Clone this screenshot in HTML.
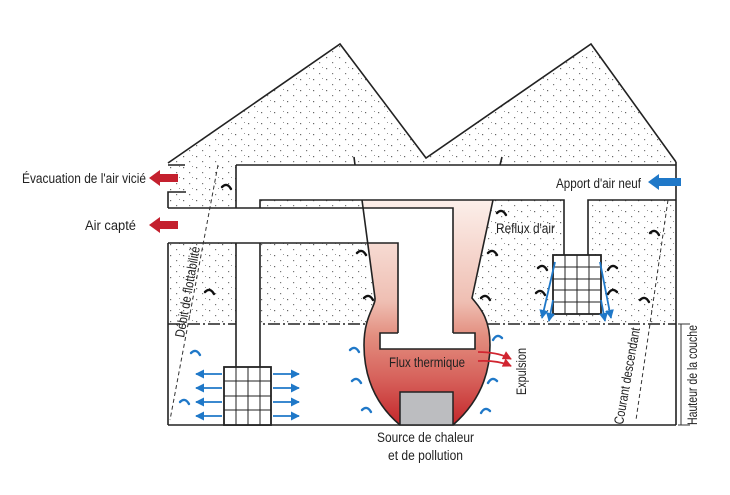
<!DOCTYPE html>
<html><head><meta charset="utf-8"><style>
html,body{margin:0;padding:0;background:#fff;}
svg{display:block;font-family:"Liberation Sans",sans-serif;}
</style></head><body>
<svg width="730" height="495" viewBox="0 0 730 495" xmlns="http://www.w3.org/2000/svg">
<defs>
<pattern id="dots" width="13" height="11" patternUnits="userSpaceOnUse">
<rect x="1" y="2" width="1.2" height="1.2" fill="#666"/>
<rect x="7" y="7" width="1.2" height="1.2" fill="#777"/>
<rect x="10" y="1" width="1" height="1" fill="#999"/>
</pattern>
<linearGradient id="heat" x1="0" y1="200" x2="0" y2="425" gradientUnits="userSpaceOnUse">
<stop offset="0" stop-color="#fcefea"/>
<stop offset="0.45" stop-color="#efbfb3"/>
<stop offset="0.6" stop-color="#e38f80"/>
<stop offset="0.8" stop-color="#d6605a"/>
<stop offset="1" stop-color="#c4262a"/>
</linearGradient>
<marker id="bh" viewBox="0 0 10 10" refX="9" refY="5" markerWidth="5" markerHeight="5" orient="auto"><path d="M0,0 L10,5 L0,10 z" fill="#1f78c8"/></marker>
<marker id="rh" viewBox="0 0 10 10" refX="9" refY="5" markerWidth="5" markerHeight="5" orient="auto"><path d="M0,0 L10,5 L0,10 z" fill="#d12530"/></marker>
</defs>

<polygon points="168,163 340,44 426,158 591,44 676,162 676,324 168,324" fill="url(#dots)"/>
<line x1="168" y1="324" x2="676" y2="324" stroke="#222" stroke-width="1.5" stroke-dasharray="12,3,2,3"/>

<path d="M362,200 L493,200 L472,298 C478,306 490,316 490,345 C490,385 470,410 453,425 L400,425 C382,410 364,385 364,345 C364,316 376,306 375,298 Z" fill="url(#heat)"/>

<rect x="236" y="165" width="440" height="35" fill="#fff"/>
<rect x="236" y="165" width="24" height="202" fill="#fff"/>
<rect x="564" y="199" width="24" height="56" fill="#fff"/>
<rect x="168" y="208" width="285" height="35" fill="#fff"/>
<rect x="398" y="208" width="55" height="125" fill="#fff"/>
<rect x="380" y="333" width="95" height="16" fill="#fff"/>

<g fill="none" stroke="#222" stroke-width="1.6">
<polyline points="168,163 340,44 426,158 591,44 676,162"/>
<line x1="168" y1="165" x2="185" y2="165"/>
<line x1="236" y1="165" x2="676" y2="165"/>
<line x1="354" y1="157" x2="355" y2="165"/>
<line x1="502" y1="157" x2="500" y2="165"/>
<polyline points="186,192 168,192 168,208"/>
<line x1="168" y1="243" x2="168" y2="425"/>
<line x1="236" y1="165" x2="236" y2="208"/>
<line x1="236" y1="243" x2="236" y2="367"/>
<line x1="260" y1="243" x2="260" y2="367"/>
<polyline points="260,208 260,200 564,200 564,255"/>
<polyline points="588,255 588,200 676,200"/>
<line x1="676" y1="162" x2="676" y2="425"/>
<polyline points="168,208 453,208 453,333"/>
<polyline points="168,243 398,243 398,333"/>
<polyline points="398,333 380,333 380,349 475,349 475,333 453,333"/>
<path d="M493,200 L472,298 C478,306 490,316 490,345 C490,385 470,410 453,425 M400,425 C382,410 364,385 364,345 C364,316 376,306 375,298 L362,200"/>
<line x1="168" y1="425" x2="676" y2="425"/>
</g>
<rect x="400" y="392" width="53" height="33" fill="#bcbdc0" stroke="#222" stroke-width="1.5"/>

<g stroke="#222" fill="#fff">
<rect x="224" y="367" width="47" height="58" stroke-width="1.8"/>
<rect x="553" y="255" width="48" height="59" stroke-width="1.8"/>
</g>
<g stroke="#222" stroke-width="1">
<line x1="236" y1="367" x2="236" y2="425"/><line x1="248" y1="367" x2="248" y2="425"/><line x1="260" y1="367" x2="260" y2="425"/>
<line x1="224" y1="381" x2="271" y2="381"/><line x1="224" y1="396" x2="271" y2="396"/><line x1="224" y1="410" x2="271" y2="410"/>
<line x1="565" y1="255" x2="565" y2="314"/><line x1="577" y1="255" x2="577" y2="314"/><line x1="589" y1="255" x2="589" y2="314"/>
<line x1="553" y1="267" x2="601" y2="267"/><line x1="553" y1="279" x2="601" y2="279"/><line x1="553" y1="290" x2="601" y2="290"/><line x1="553" y1="302" x2="601" y2="302"/>
</g>

<g stroke="#1f78c8" stroke-width="1.8" marker-end="url(#bh)">
<line x1="222" y1="374" x2="196" y2="374"/><line x1="222" y1="388" x2="196" y2="388"/><line x1="222" y1="402" x2="196" y2="402"/><line x1="222" y1="416" x2="196" y2="416"/>
<line x1="273" y1="374" x2="299" y2="374"/><line x1="273" y1="388" x2="299" y2="388"/><line x1="273" y1="402" x2="299" y2="402"/><line x1="273" y1="416" x2="299" y2="416"/>
<line x1="555" y1="262" x2="542" y2="318"/><line x1="553" y1="300" x2="549" y2="321"/>
<line x1="600" y1="262" x2="611" y2="318"/><line x1="601" y1="300" x2="605" y2="321"/>
</g>

<g stroke="#333" stroke-width="1" stroke-dasharray="4,3" fill="none">
<line x1="218" y1="165" x2="170" y2="420"/>
<line x1="668" y1="200" x2="636" y2="420"/>
</g>

<g fill="none" stroke="#111" stroke-width="2.4" stroke-linecap="round">
<path d="M222,187 q5,-5 9,2"/><path d="M205,292 q5,-5 9,2"/><path d="M357,253 q5,-5 9,2"/><path d="M364,298 q5,-5 9,2"/>
<path d="M497,213 q5,-5 9,2"/><path d="M488,253 q5,-5 9,2"/><path d="M481,298 q5,-5 9,2"/>
<path d="M538,268 q5,-5 9,2"/><path d="M536,293 q5,-5 9,2"/><path d="M617,268 q-5,-5 -9,2"/><path d="M617,292 q-5,-5 -9,2"/>
<path d="M650,233 q5,-5 9,2"/><path d="M640,300 q5,-5 9,2"/>
</g>
<g fill="none" stroke="#1f78c8" stroke-width="2.4" stroke-linecap="round">
<path d="M191,353 q5,-5 9,2"/><path d="M180,402 q5,-5 9,2"/><path d="M350,350 q5,-5 9,2"/><path d="M352,381 q5,-5 9,2"/><path d="M362,410 q5,-5 9,2"/>
<path d="M502,338 q-5,-5 -9,2"/><path d="M497,381 q-5,-5 -9,2"/><path d="M490,411 q-5,-5 -9,2"/>
</g>

<g stroke="#d12530" stroke-width="1.8" fill="none" marker-end="url(#rh)">
<path d="M478,352 Q498,352 511,359"/>
<path d="M478,361 Q498,360 511,366"/>
</g>

<path d="M149,178 L160,170 L160,174 L178,174 L178,182 L160,182 L160,186 Z" fill="#c4202e"/>
<path d="M149,225 L160,217 L160,221 L178,221 L178,229 L160,229 L160,233 Z" fill="#c4202e"/>
<path d="M648,182 L659,174 L659,178 L681,178 L681,186 L659,186 L659,190 Z" fill="#1f78c8"/>

<g stroke="#333" stroke-width="1">
<line x1="681" y1="324" x2="681" y2="425"/><line x1="678" y1="324" x2="690" y2="324"/><line x1="678" y1="425" x2="690" y2="425"/>
</g>

<g fill="#222" font-size="13.5">
<text x="22" y="183" textLength="124" lengthAdjust="spacingAndGlyphs">Évacuation de l'air vicié</text>
<text x="85" y="230" textLength="51" lengthAdjust="spacingAndGlyphs">Air capté</text>
<text x="556" y="188" textLength="85" lengthAdjust="spacingAndGlyphs">Apport d'air neuf</text>
<text x="496" y="233" textLength="59" lengthAdjust="spacingAndGlyphs">Reflux d'air</text>
<text x="389" y="367" textLength="76" lengthAdjust="spacingAndGlyphs">Flux thermique</text>
<text x="377" y="442" textLength="97" lengthAdjust="spacingAndGlyphs">Source de chaleur</text>
<text x="388" y="460" textLength="75" lengthAdjust="spacingAndGlyphs">et de pollution</text>
<text transform="translate(526,395) rotate(-90)" textLength="47" lengthAdjust="spacingAndGlyphs">Expulsion</text>
<text transform="translate(697,425) rotate(-90)" textLength="100" lengthAdjust="spacingAndGlyphs">Hauteur de la couche</text>
<text transform="translate(184,338) rotate(-80)" textLength="92" lengthAdjust="spacingAndGlyphs">Débit de flottabilité</text>
<text transform="translate(623,425) rotate(-80)" textLength="98" lengthAdjust="spacingAndGlyphs">Courant descendant</text>
</g>
</svg>
</body></html>
